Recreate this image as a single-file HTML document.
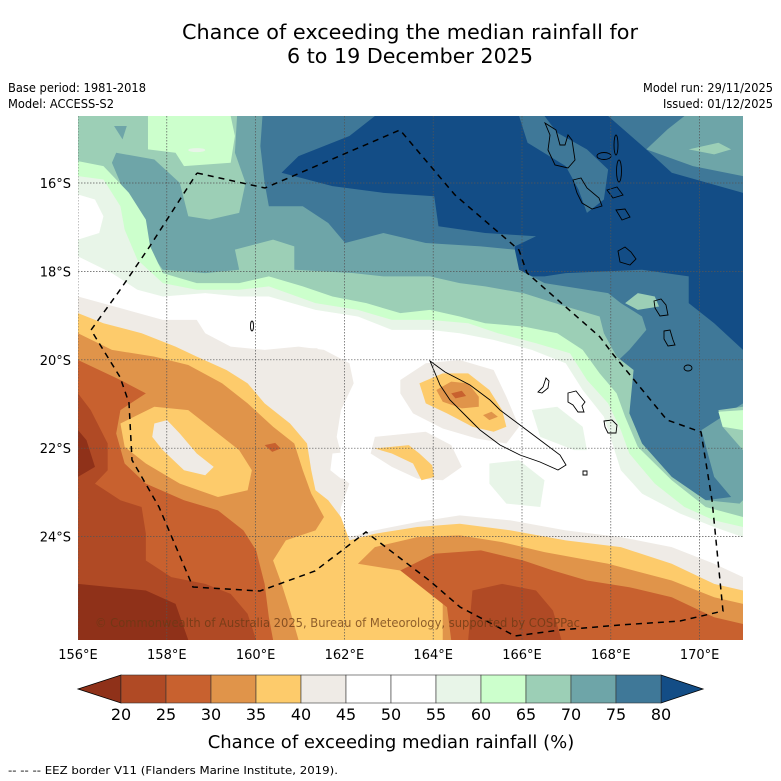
<!DOCTYPE html>
<html><head><meta charset="utf-8">
<style>
html,body{margin:0;padding:0;background:#fff;}
svg{display:block;font-family:"DejaVu Sans","Liberation Sans",sans-serif;}
</style></head>
<body>
<svg id="chart" width="781" height="781" viewBox="0 0 781 781">
<text x="410" y="39" text-anchor="middle" font-size="20" textLength="456" lengthAdjust="spacingAndGlyphs">Chance of exceeding the median rainfall for</text>
<text x="410" y="63" text-anchor="middle" font-size="20" textLength="246" lengthAdjust="spacingAndGlyphs">6 to 19 December 2025</text>
<text x="8" y="92" font-size="12" textLength="138" lengthAdjust="spacingAndGlyphs">Base period: 1981-2018</text>
<text x="8" y="108" font-size="12" textLength="106" lengthAdjust="spacingAndGlyphs">Model: ACCESS-S2</text>
<text x="773" y="92" font-size="12" text-anchor="end" textLength="130" lengthAdjust="spacingAndGlyphs">Model run: 29/11/2025</text>
<text x="773" y="108" font-size="12" text-anchor="end" textLength="110" lengthAdjust="spacingAndGlyphs">Issued: 01/12/2025</text>

<defs><clipPath id="mapclip"><rect x="78" y="116" width="665" height="524"/></clipPath></defs>
<g clip-path="url(#mapclip)">
 <rect x="78" y="116" width="665" height="524" fill="#134d86"/>
 <g transform="translate(78,116) scale(0.42411,0.33418)">
  <path fill="#3f7898" d="M0,0 L700,0 L640,60 L520,120 L480,170 L600,210 L720,230 L840,240 L850,330 L960,350 L1080,360 L1030,390 L1030,480 L1100,480 L1150,470 L1330,460 L1440,480 L1440,560 L1500,620 L1568,700 L1568,1568 L0,1568Z"/>
  <path fill="#3f7898" d="M1040,0 L1100,0 L1130,50 L1200,100 L1250,160 L1240,250 L1200,290 L1180,220 L1150,150 L1060,80Z M1250,0 L1568,0 L1568,230 L1400,170 L1340,100Z"/>
  <path fill="#6ea5a8" d="M1430,0 L1568,0 L1568,180 L1450,150 L1340,100 L1390,40Z"/>
  <path fill="#6ea5a8" d="M0,0 L435,0 L430,90 L440,200 L450,270 L530,270 L590,320 L630,380 L720,350 L820,380 L950,390 L1030,400 L1040,460 L1100,500 L1250,530 L1280,560 L1330,600 L1340,640 L1300,700 L1250,760 L1290,860 L1320,950 L1330,1040 L1400,1090 L1480,1150 L1540,1140 L1500,1080 L1470,940 L1568,860 L1568,1568 L0,1568Z"/>
  <path fill="#9ccfb6" d="M0,0 L375,0 L370,110 L395,200 L380,290 L310,310 L260,300 L240,200 L180,130 L90,110 L80,140 L110,230 L150,300 L160,390 L200,460 L300,470 L380,460 L370,400 L460,370 L510,390 L510,460 L650,470 L720,480 L830,480 L900,500 L960,510 L1050,530 L1150,570 L1230,600 L1240,650 L1270,720 L1310,760 L1300,890 L1330,980 L1400,1080 L1480,1150 L1560,1160 L1568,1150 L1568,1568 L0,1568Z"/>
  <path fill="#9ccfb6" d="M1440,100 L1510,80 L1540,100 L1500,115Z M1290,560 L1320,530 L1360,540 L1370,570 L1320,580Z M1510,880 L1568,870 L1568,1000 L1520,930Z"/>
  <path fill="#6ea5a8" d="M85,30 L115,30 L105,70Z"/>
  <path fill="#ccffcc" d="M0,135 L60,150 L120,230 L160,310 L170,390 L200,470 L280,500 L380,500 L450,480 L530,510 L600,540 L680,560 L760,590 L830,580 L900,600 L960,620 L1050,630 L1130,650 L1190,700 L1230,770 L1270,830 L1290,900 L1320,990 L1400,1090 L1480,1170 L1568,1200 L1568,1568 L0,1568Z"/>
  <path fill="#ccffcc" d="M165,0 L360,0 L370,60 L360,140 L250,150 L230,110 L165,100Z M1510,885 L1568,880 L1568,940 L1520,930Z"/>
  <ellipse cx="280" cy="102" rx="20" ry="6" fill="#e8f5e8"/>
  <path fill="#e8f5e8" d="M0,180 L60,190 L100,270 L110,340 L140,430 L200,500 L280,520 L380,520 L450,510 L560,560 L660,580 L740,610 L830,610 L920,620 L990,650 L1080,680 L1160,710 L1200,790 L1250,860 L1280,940 L1300,1010 L1360,1100 L1430,1170 L1500,1210 L1568,1230 L1568,1568 L0,1568Z"/>
  <path fill="#ffffff" d="M0,420 L80,470 L140,520 L200,540 L300,530 L380,540 L450,540 L560,580 L660,600 L740,640 L830,640 L900,650 L980,670 L1070,700 L1150,740 L1190,820 L1240,900 L1260,980 L1280,1060 L1330,1130 L1420,1190 L1500,1230 L1568,1260 L1568,1568 L0,1568Z"/>
  <path fill="#ffffff" d="M0,235 L40,250 L60,300 L50,350 L0,370Z"/>
  <path fill="#e8f5e8" d="M1070,880 L1130,870 L1190,930 L1200,1000 L1170,1000 L1090,960Z M970,1040 L1040,1030 L1100,1090 L1090,1170 L1010,1160 L970,1100Z"/>
  <path fill="#efebe6" d="M0,540 L100,575 L200,610 L280,610 L300,650 L360,690 L440,700 L520,690 L580,700 L640,740 L650,800 L620,880 L610,960 L620,1010 L600,1060 L640,1100 L620,1170 L610,1270 L700,1240 L800,1215 L900,1195 L1020,1210 L1150,1240 L1280,1260 L1400,1290 L1500,1340 L1568,1380 L1568,1568 L0,1568Z"/>
  <path fill="#ffffff" d="M600,1010 L680,1000 L720,1040 L700,1080 L620,1085 L595,1060Z"/>
  <path fill="#efebe6" d="M760,790 L820,740 L900,730 L980,760 L1010,840 L1040,930 L1010,980 L940,965 L860,935 L790,890 L760,830Z M700,960 L820,945 L880,985 L905,1050 L860,1090 L800,1085 L740,1050 L690,1010Z M540,695 L565,695 L558,730 L548,730Z"/>
  <path fill="#fdcb6b" d="M0,590 L60,620 L150,650 L230,690 L280,720 L350,760 L400,800 L440,860 L500,920 L540,980 L550,1060 L560,1120 L590,1150 L620,1200 L640,1270 L700,1250 L800,1230 L900,1220 L1020,1240 L1150,1270 L1280,1290 L1400,1340 L1500,1400 L1568,1420 L1568,1568 L0,1568Z"/>
  <path fill="#fdcb6b" d="M805,800 L860,770 L920,770 L970,820 L1000,880 L1010,930 L980,945 L930,930 L870,890 L820,860Z M700,995 L780,985 L805,1010 L835,1045 L840,1080 L810,1090 L790,1040 L740,1010Z"/>
  <path fill="#e0944a" d="M0,650 L80,700 L180,720 L260,745 L340,800 L400,860 L460,930 L510,980 L530,1060 L550,1130 L580,1200 L560,1240 L490,1270 L460,1330 L480,1400 L500,1480 L520,1568 L0,1568Z M660,1340 L700,1290 L800,1260 L900,1255 L1000,1275 L1100,1305 L1250,1340 L1400,1390 L1500,1440 L1568,1460 L1568,1568 L860,1568 L860,1460 L820,1400 L760,1360Z"/>
  <path fill="#e0944a" d="M845,820 L880,795 L920,800 L945,840 L945,870 L905,875 L860,855Z M955,895 L975,885 L990,900 L970,910Z"/>
  <path fill="#fdcb6b" d="M100,920 L180,870 L260,880 L320,940 L380,1000 L410,1060 L400,1120 L330,1140 L240,1100 L160,1040 L110,990Z"/>
  <path fill="#efebe6" d="M180,920 L210,910 L240,950 L280,1010 L320,1050 L300,1075 L250,1060 L200,1000 L175,960Z"/>
  <path fill="#c8612f" d="M0,730 L100,790 L160,830 L100,880 L90,950 L110,1040 L160,1100 L250,1150 L330,1180 L390,1240 L420,1300 L440,1400 L450,1500 L460,1568 L0,1568Z M760,1360 L840,1310 L950,1300 L1050,1330 L1120,1360 L1200,1390 L1300,1410 L1400,1440 L1500,1500 L1568,1520 L1568,1568 L880,1568 L870,1470Z"/>
  <path fill="#c8612f" d="M440,985 L465,978 L478,995 L458,1005Z M880,830 L905,822 L915,838 L890,845Z"/>
  <path fill="#b04a25" d="M0,830 L30,880 L70,980 L70,1060 L40,1100 L100,1150 L150,1170 L160,1250 L160,1330 L220,1380 L300,1400 L360,1430 L400,1490 L420,1568 L0,1568Z M930,1420 L1000,1400 L1080,1420 L1120,1480 L1140,1568 L920,1568Z"/>
  <path fill="#8f3119" d="M0,940 L20,970 L40,1050 L0,1080Z M0,1400 L80,1410 L160,1420 L230,1460 L260,1568 L0,1568Z"/>
 </g>
 <g fill="none" stroke="#000" stroke-width="0.9">
  <path d="M430,361 L445,372 L470,385 L490,400 L500,410 L520,425 L540,440 L560,455 L566,465 L558,470 L540,462 L520,455 L500,445 L480,430 L465,415 L450,400 L440,385Z"/>
  <path d="M583,471 l4,0 l0,4 l-4,0z"/>
  <path d="M546,378 l3,3 l-1,7 l-6,5 l-4,-1 l5,-5z"/>
  <path d="M568,393 l8,-2 l4,5 l5,6 l-3,4 l2,6 l-6,0 l-5,-7 l-5,-3z"/>
  <path d="M604,421 l8,-1 l5,5 l-1,8 l-8,0 l-3,-6z"/>
  <path d="M545,123 l5,12 l-2,15 l7,15 l13,3 l7,-8 l-3,-20 l-4,-5 l-3,10 l-5,0 l-4,-15z"/>
  <ellipse cx="616" cy="145" rx="2" ry="10"/>
  <ellipse cx="619" cy="171" rx="2.5" ry="11"/>
  <ellipse cx="604" cy="156" rx="7" ry="3.5"/>
  <path d="M573,180 l8,-2 l6,10 l12,10 l3,8 l-10,3 l-10,-6 l-5,-10z"/>
  <path d="M607,190 l10,-3 l6,8 l-10,3z"/>
  <path d="M616,210 l9,-1 l5,8 l-8,3z"/>
  <path d="M618,251 l7,-4 l6,5 l5,7 l-6,6 l-10,-3z"/>
  <path d="M654,301 l7,-2 l5,6 l2,10 l-8,1 l-5,-8z"/>
  <path d="M664,331 l6,-1 l3,10 l2,5 l-7,1 l-4,-7z"/>
  <ellipse cx="688" cy="368" rx="4" ry="3"/>
  <ellipse cx="252" cy="326" rx="1.5" ry="5"/>
 </g>
 <g stroke="#555" stroke-width="0.7" stroke-dasharray="1.5,1.5" id="grid"></g>
 <path fill="none" stroke="#000" stroke-width="1.5" stroke-dasharray="6,5" d="M197,173 L265,188 L400,130 L455,195 L519,250 L527,273 L600,337 L612,353 L667,420 L701,432 L712,500 L723,611 L680,621 L620,625 L560,630 L515,636 L460,607 L430,581 L366,532 L340,552 L315,571 L260,591 L193,587 L159,507 L132,460 L129,403 L120,377 L91,330 L120,290 L150,246 L197,173"/>
 <text x="95" y="627" font-size="12.5" fill="#6a3a14" fill-opacity="0.75" textLength="485" lengthAdjust="spacingAndGlyphs">© Commonwealth of Australia 2025, Bureau of Meteorology, supported by COSPPac</text>
</g>
<g id="axes" font-size="13"></g>
<g id="colorbar"></g>
<text x="391" y="748" text-anchor="middle" font-size="18">Chance of exceeding median rainfall (%)</text>
<text x="8" y="774" font-size="11" textLength="330" lengthAdjust="spacingAndGlyphs">--  --  -- EEZ border V11 (Flanders Marine Institute, 2019).</text>
</svg>
<script>
const lonTicks = [156, 158, 160, 162, 164, 166, 168, 170];
const latTicks = [16, 18, 20, 22, 24];
const cbLevels = [20, 25, 30, 35, 40, 45, 50, 55, 60, 65, 70, 75, 80];
const cbColors = ["#b04a25", "#c8612f", "#e0944a", "#fdcb6b", "#efebe6", "#ffffff", "#ffffff", "#e8f5e8", "#ccffcc", "#9ccfb6", "#6ea5a8", "#3f7898"];
const cbUnder = "#8f3119";
const cbOver = "#134d86";
const NS = "http://www.w3.org/2000/svg";
const xLon = lon => 78 + (lon - 156) * 44.4;
const yLat = lat => 183 + (lat - 16) * 44.2;
const xCb = v => 121 + (v - 20) * 9;
function mk(tag, attrs, parent) { const e = document.createElementNS(NS, tag); for (const k in attrs) e.setAttribute(k, attrs[k]); parent.appendChild(e); return e; }
const grid = document.getElementById('grid');
const axes = document.getElementById('axes');
lonTicks.forEach(lon => {
  const l = mk('line', {x1: xLon(lon), x2: xLon(lon), y1: 116, y2: 640}, grid);
  
  
  const t = mk('text', {x: xLon(lon), y: 659, 'text-anchor': 'middle'}, axes);
  t.textContent = lon + '°E';
  
  
});
latTicks.forEach(lat => {
  const l = mk('line', {x1: 78, x2: 743, y1: yLat(lat), y2: yLat(lat)}, grid);
  
  
  const t = mk('text', {x: 71, y: yLat(lat) + 5, 'text-anchor': 'end'}, axes);
  t.textContent = lat + '°S';
  
  
});
const cb = document.getElementById('colorbar');
const y0 = 675, y1 = 703;
const under = mk('polygon', {points: `${xCb(20)},${y0} ${xCb(20)},${y1} 78,${(y0+y1)/2}`, fill: cbUnder, stroke: '#000', 'stroke-width': 0.8}, cb);


const over = mk('polygon', {points: `${xCb(80)},${y0} ${xCb(80)},${y1} 703,${(y0+y1)/2}`, fill: cbOver, stroke: '#000', 'stroke-width': 0.8}, cb);


cbColors.forEach((c, i) => {
  const r = mk('rect', {x: xCb(cbLevels[i]), y: y0, width: xCb(cbLevels[i+1]) - xCb(cbLevels[i]), height: y1 - y0, fill: c, stroke: '#333', 'stroke-width': 0.6}, cb);
  
  
});
cbLevels.forEach(v => {
  const t = mk('text', {x: xCb(v), y: 720, 'text-anchor': 'middle', 'font-size': 16}, cb);
  t.textContent = v;
  
  
});
</script>
</body></html>
